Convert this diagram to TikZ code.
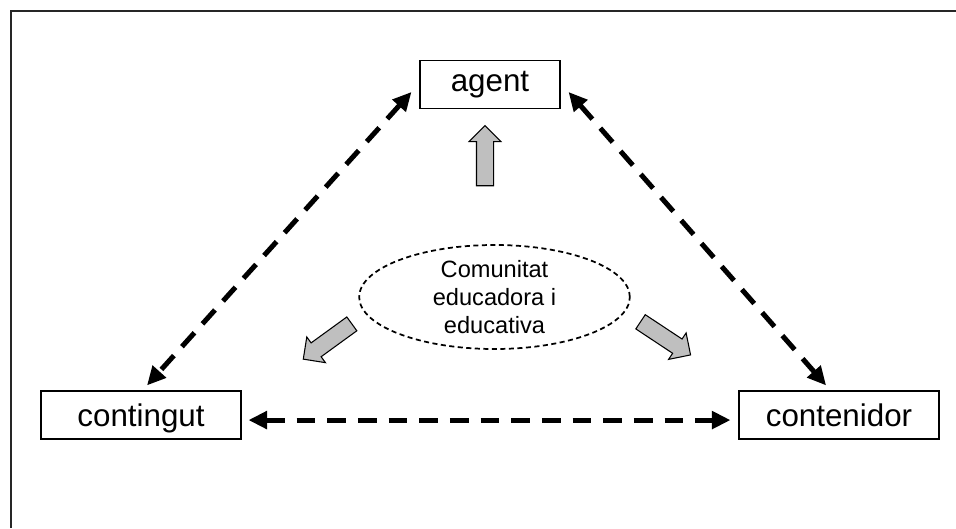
\documentclass[tikz,border=0pt]{standalone}
\usepackage{fontspec}
\setmainfont{Liberation Sans}
\usepackage{tikz}
\usetikzlibrary{positioning,arrows.meta,shapes.geometric,shapes.arrows}

\begin{document}
\begin{tikzpicture}[x=0.75pt,y=-0.75pt,>={Triangle[length=14pt,width=13pt]},
	box/.style={draw,line width=0.8pt,fill=white,minimum width=150pt,minimum height=36pt,inner sep=0pt,text height=16.8pt,text depth=0pt,font=\fontsize{23.5}{26}\selectfont},
	community/.style={ellipse,draw,dash pattern=on 3.8pt off 2.6pt,line width=1.3pt,minimum width=203pt,minimum height=78pt,inner sep=0pt,align=center,font=\fontsize{17.7}{21}\selectfont},
	grayarrow/.style={single arrow,draw,line width=0.8pt,fill=black!25,minimum height=45pt,inner sep=6pt,single arrow head extend=5.5pt},
	dasharrow/.style={<->,line width=3.75pt,dash pattern=on 14pt off 9pt}]

	\useasboundingbox (0,0) rectangle (956,528);
	% frame
	\draw[line width=1.5pt,black!85] (11,528) -- (11,11) -- (956,11);

    % The graph
	\node [box,minimum width=105pt,text height=15.5pt,text depth=4.9pt] at (490,84.5) (agent) {agent};
	\node [box] at (141,415) (contingut) {contingut};
	\node [box] at (839,415) (contenidor) {contenidor};
	\node [community] at (494.5,297) (comunitat) {Comunitat\\educadora i\\educativa};

	% gray arrows
	\node [grayarrow,rotate=90] at (485,160) (toagent) {};
	\node [grayarrow,rotate=216] at (331,339) (tocontingut) {};
	\node [grayarrow,rotate=-33.5] at (662,336) (tocontenidor) {};

	% Graph edges
	\path[dasharrow]
	([xshift=-6pt,yshift=-5.6pt]agent.west) edge ([xshift=4.5pt,yshift=3.8pt]contingut.north)
	([xshift=6pt,yshift=-5.6pt]agent.east) edge ([xshift=-9.7pt,yshift=3.8pt]contenidor.north)
	([xshift=5.2pt,yshift=-3.8pt]contingut.east) edge ([xshift=-6pt,yshift=-3.8pt]contenidor.west);

\end{tikzpicture}
\end{document}
